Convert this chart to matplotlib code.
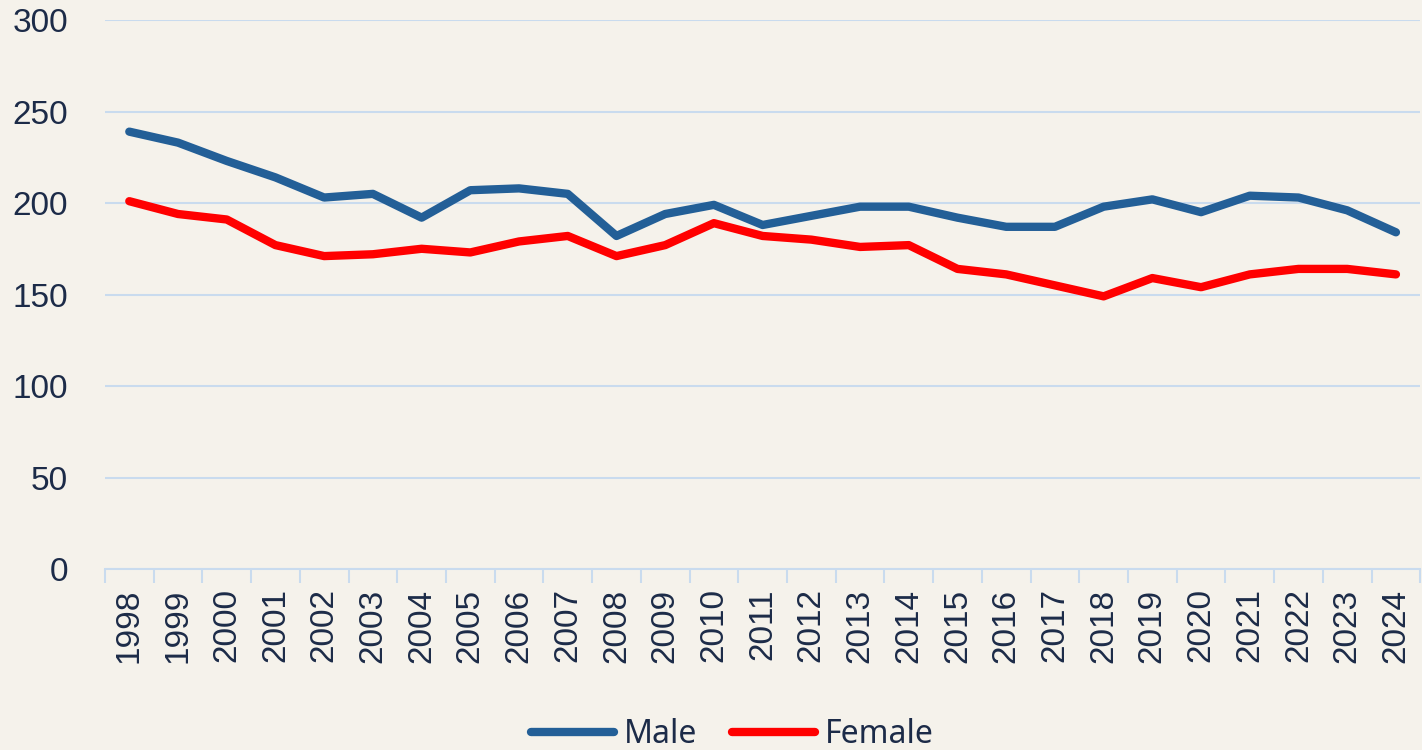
import matplotlib

matplotlib.use("Agg")
import matplotlib.pyplot as plt

years = [str(y) for y in range(1998, 2025)]
male = [239, 233, 223, 214, 203, 205, 192, 207, 208, 205, 182, 194, 199, 188,
        193, 198, 198, 192, 187, 187, 198, 202, 195, 204, 203, 196, 184]
female = [201, 194, 191, 177, 171, 172, 175, 173, 179, 182, 171, 177, 189, 182,
          180, 176, 177, 164, 161, 155, 149, 159, 154, 161, 164, 164, 161]

BG = "#f5f2eb"
TEXT = "#1c2b48"
GRID = "#c9dbee"

fig = plt.figure(figsize=(14.22, 7.5), dpi=100, facecolor=BG)
ax = fig.add_axes([0.0738, 0.2413, 0.925, 0.732], facecolor=BG)

x = list(range(len(years)))
ax.plot(x, male, color="#235f97", lw=6, solid_capstyle="round",
        solid_joinstyle="round", label="Male", zorder=3)
ax.plot(x, female, color="#ff0000", lw=6, solid_capstyle="round",
        solid_joinstyle="round", label="Female", zorder=3)

ax.set_xlim(-0.5, len(years) - 0.5)
ax.set_ylim(0, 300)
ax.set_yticks(range(0, 301, 50))
ax.grid(axis="y", color=GRID, lw=1.5, zorder=0)
ax.set_axisbelow(True)

ax.set_xticks(x)
ax.set_xticklabels(years, rotation=90, fontsize=24, color=TEXT,
                   family="Liberation Sans")
ax.tick_params(axis="x", length=0, pad=14)
ax.set_xticks([i - 0.5 for i in range(len(years) + 1)], minor=True)
ax.tick_params(axis="x", which="minor", length=10, width=1.5, color=GRID)
ax.tick_params(axis="y", length=0, pad=26.5, labelsize=24, labelcolor=TEXT)
for lbl in ax.get_yticklabels():
    lbl.set_family("Liberation Sans")

for side in ("top", "right", "left"):
    ax.spines[side].set_visible(False)
ax.spines["bottom"].set_color(GRID)
ax.spines["bottom"].set_linewidth(1.5)

leg = fig.legend(loc="lower center", bbox_to_anchor=(0.515, -0.04), ncol=2,
                 frameon=False, handlelength=2.6, columnspacing=1.1,
                 handletextpad=0.3, prop={"family": "Noto Sans", "size": 23})
for t in leg.get_texts():
    t.set_color(TEXT)

fig.savefig("out.png", dpi=100, facecolor=BG)
